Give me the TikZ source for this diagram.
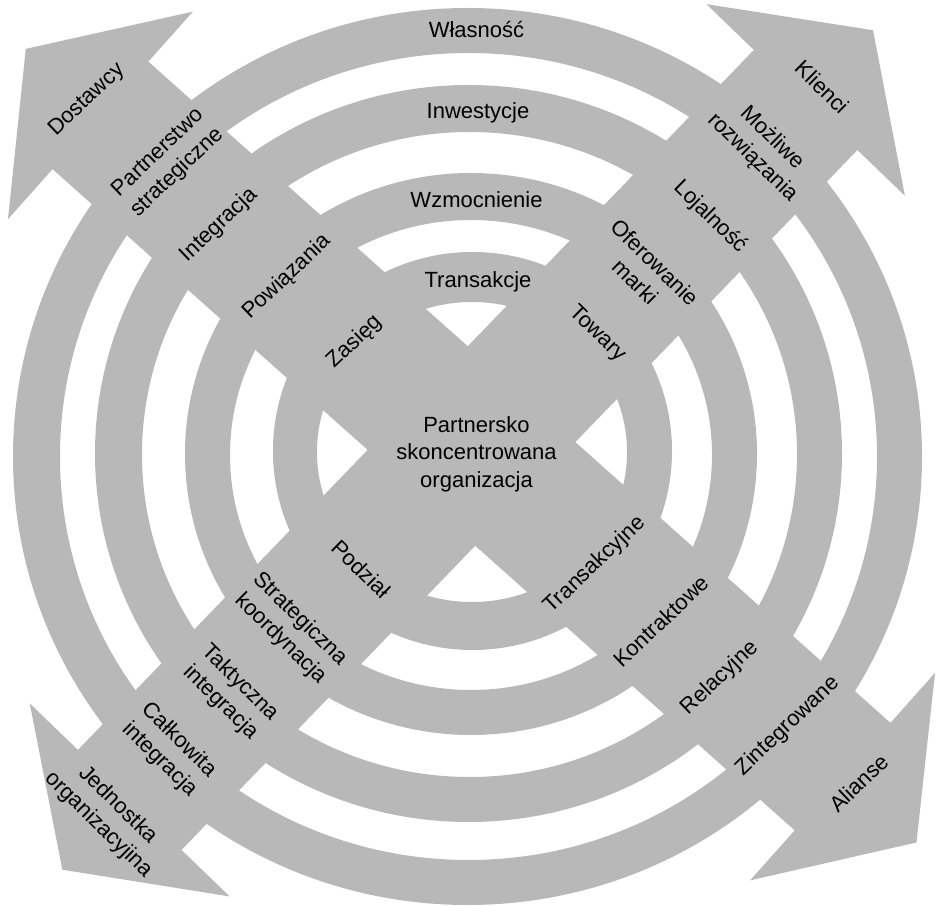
\documentclass[tikz,border=0pt]{standalone}
\usepackage{fontspec}
\setmainfont{Liberation Sans}
\definecolor{ringgray}{RGB}{184,184,184}
\begin{document}
\begin{tikzpicture}[x=1pt,y=1pt,
  lbl/.style={font=\fontsize{22}{27.5}\selectfont, align=center, inner sep=0pt, text=black},
  flat/.style={lbl, anchor=base},
  risetext/.style={lbl, rotate=43.5},
  falltext/.style={lbl, rotate=-44.5}]
\useasboundingbox (0,0) rectangle (939,905);

% concentric rings
\fill[ringgray, even odd rule]
  (467.5,448.5) ellipse [x radius=454.5pt, y radius=448.5pt]
  (468.5,448.5) ellipse [x radius=408.5pt, y radius=403.5pt];
\fill[ringgray, even odd rule]
  (468.5,451.5) ellipse [x radius=373.5pt, y radius=368.5pt]
  (469.5,450.5) ellipse [x radius=327.5pt, y radius=322.5pt];
\fill[ringgray, even odd rule]
  (471,451) ellipse [x radius=286pt, y radius=281pt]
  (471,450) ellipse [x radius=241pt, y radius=235pt];
\fill[ringgray, even odd rule]
  (472.5,454) ellipse [x radius=199.5pt, y radius=199pt]
  (472,453) ellipse [x radius=155pt, y radius=150pt];

% diagonal double arrow: suppliers to alliances
\begin{scope}[shift={(471.5,459)}, rotate=-41.7]
  \fill[ringgray] (497,-72) -- (497,-139) -- (596,0) -- (497,139) -- (497,72)
    -- (-497,72) -- (-497,139) -- (-597,0) -- (-497,-139) -- (-497,-72) -- cycle;
\end{scope}
% diagonal double arrow: organisation unit to clients
\begin{scope}[shift={(471.5,459)}, rotate=46]
  \fill[ringgray] (481,-72) -- (481,-138) -- (578,0) -- (481,138) -- (481,72)
    -- (-492,72) -- (-492,139) -- (-589,0) -- (-492,-139) -- (-492,-72) -- cycle;
\end{scope}

% ring labels
\node[flat] (wlasnosc) at (476.5,867) {Własność};
\node[flat] (inwestycje) at (478,786) {Inwestycje};
\node[flat] (wzmocnienie) at (476.5,697) {Wzmocnienie};
\node[flat] (transakcje) at (478,617) {Transakcje};

% centre
\node[lbl] (centrum) at (476.5,451) {Partnersko\\skoncentrowana\\organizacja};

% suppliers arm
\node[risetext] (dostawcy) at (87,805) {Dostawcy};
\node[risetext] (partnerstwo) at (168,742) {Partnerstwo\\strategiczne};
\node[risetext] (integracja) at (219,680) {Integracja};
\node[risetext] (powiazania) at (287,628) {Powiązania};
\node[risetext] (zasieg) at (355,563) {Zasięg};

% alliances arm
\node[risetext] (transakcyjne) at (595,340) {Transakcyjne};
\node[risetext] (kontraktowe) at (661,284) {Kontraktowe};
\node[risetext] (relacyjne) at (720,227) {Relacyjne};
\node[risetext] (zintegrowane) at (788,179) {Zintegrowane};
\node[risetext] (alianse) at (859,122) {Alianse};

% clients arm
\node[falltext] (klienci) at (822,818) {Klienci};
\node[falltext] (mozliwe) at (762,757) {Możliwe\\rozwiązania};
\node[falltext] (lojalnosc) at (710,688) {Lojalność};
\node[falltext] (oferowanie) at (645,633) {Oferowanie\\marki};
\node[falltext] (towary) at (597,571) {Towary};

% organisation unit arm
\node[falltext] (podzial) at (361,336) {Podział};
\node[falltext] (koordynacja) at (290,276) {Strategiczna\\koordynacja};
\node[falltext] (taktyczna) at (230,212) {Taktyczna\\integracja};
\node[falltext] (calkowita) at (169,155) {Całkowita\\integracja};
\node[falltext] (jednostka) at (108,90) {Jednostka\\organizacyjina};
\end{tikzpicture}
\end{document}
